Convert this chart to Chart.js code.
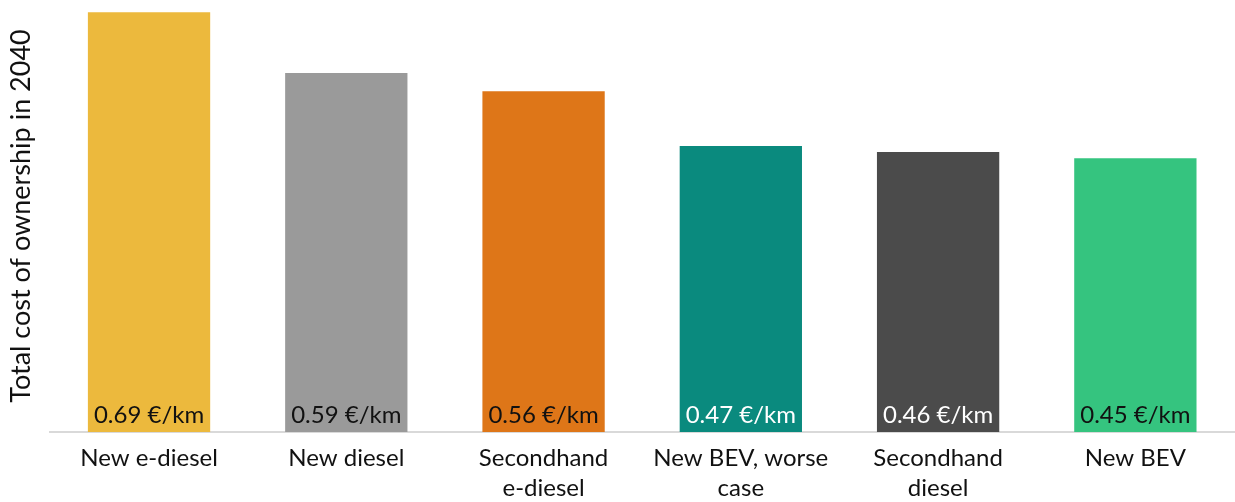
<!DOCTYPE html>
<html>
<head>
<meta charset="utf-8">
<script src="https://cdn.jsdelivr.net/npm/chart.js@4"></script>
<style>
  html, body { margin: 0; padding: 0; background: #fff; }
  #wrap { width: 1235px; height: 502px; }
</style>
</head>
<body>
<div id="wrap"><canvas id="c" width="1235" height="502"></canvas></div>
<script>
var categories = ['New e-diesel', 'New diesel', ['Secondhand', 'e-diesel'], ['New BEV, worse', 'case'], ['Secondhand', 'diesel'], 'New BEV'];
var costs = [0.69, 0.59, 0.56, 0.47, 0.46, 0.45];
var valueLabels = ['0.69 €/km', '0.59 €/km', '0.56 €/km', '0.47 €/km', '0.46 €/km', '0.45 €/km'];
var barColors = ['#ECB93D', '#9A9A9A', '#DE7618', '#0A8A7E', '#4B4B4B', '#35C47F'];
var labelColors = ['#111111', '#111111', '#111111', '#ffffff', '#ffffff', '#111111'];

var fontFamily = 'Lato, "Open Sans", sans-serif';

// draws the value text at the bottom of each bar
var insideLabels = {
    id: 'insideLabels',
    afterDatasetsDraw: function(chart) {
        var ctx = chart.ctx;
        var meta = chart.getDatasetMeta(0);
        ctx.save();
        ctx.font = '24px ' + fontFamily;
        ctx.textAlign = 'center';
        ctx.textBaseline = 'middle';
        meta.data.forEach(function(bar, i) {
            ctx.fillStyle = labelColors[i];
            ctx.fillText(valueLabels[i], bar.x, bar.base - 17);
        });
        ctx.restore();
    }
};

new Chart(document.getElementById('c'), {
    type: 'bar',
    data: {
        labels: categories,
        datasets: [{
            data: costs,
            backgroundColor: barColors,
            barPercentage: 0.62,
            categoryPercentage: 1
        }]
    },
    options: {
        responsive: false,
        animation: false,
        layout: { padding: { left: 3, right: 1, top: 0, bottom: -12 } },
        plugins: {
            legend: { display: false },
            tooltip: { enabled: false }
        },
        scales: {
            x: {
                grid: { display: false, drawTicks: false },
                border: { color: '#d9d9d9', width: 2 },
                ticks: {
                    color: '#111111',
                    padding: 11,
                    maxRotation: 0,
                    autoSkip: false,
                    font: { family: fontFamily, size: 24, lineHeight: 1.25 }
                }
            },
            y: {
                min: 0,
                max: 0.71,
                grid: { display: false, drawTicks: false },
                border: { display: false },
                ticks: { display: false },
                title: {
                    display: true,
                    text: 'Total cost of ownership in 2040',
                    color: '#111111',
                    padding: { top: 2, bottom: 13 },
                    font: { family: fontFamily, size: 27 }
                }
            }
        }
    },
    plugins: [insideLabels]
});
</script>
</body>
</html>
